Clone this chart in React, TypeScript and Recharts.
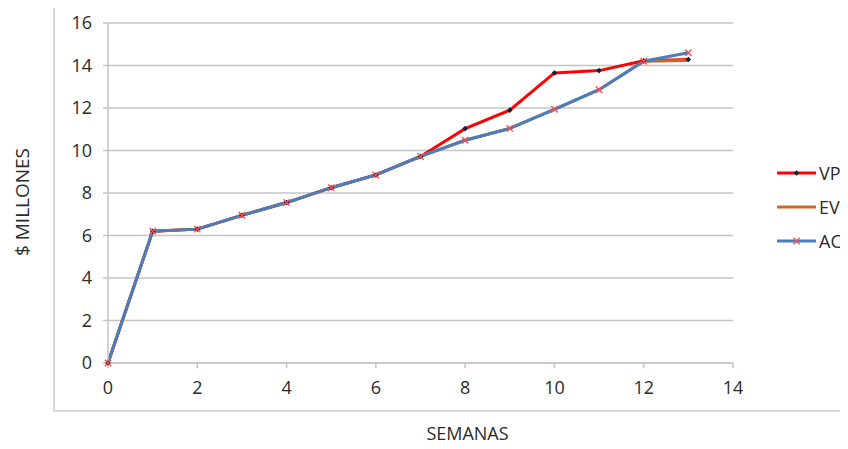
import { LineChart, Line, XAxis, YAxis, CartesianGrid } from "recharts";

const semanas = [0, 1, 2, 3, 4, 5, 6, 7, 8, 9, 10, 11, 12, 13];
const vp = [0, 6.2, 6.3, 6.95, 7.55, 8.25, 8.85, 9.72, 11.03, 11.9, 13.65, 13.76, 14.22, 14.28];
const ev = [0, 6.2, 6.3, 6.95, 7.55, 8.25, 8.85, 9.72, 10.48, 11.04, 11.94, 12.86, 14.2, 14.24];
const ac = [0, 6.2, 6.3, 6.95, 7.55, 8.25, 8.85, 9.72, 10.48, 11.04, 11.94, 12.86, 14.2, 14.6];

const xTicks = [0, 2, 4, 6, 8, 10, 12, 14];
const yTicks = [0, 2, 4, 6, 8, 10, 12, 14, 16];

const data = semanas.map((s, i) => ({ semana: s, VP: vp[i], EV: ev[i], AC: ac[i] }));

const FONT = "'Open Sans', sans-serif";
const TEXT = "#2b2b2b";
const GRID = "#c4c4c4";
const COLORS = { VP: "#ff0000", EV: "#c8692c", AC: "#4a7ebb" };

function Diamond(props: any) {
  const { cx, cy } = props;
  if (cx == null || cy == null) return null;
  const r = 2.8;
  return (
    <path
      d={`M${cx},${cy - r}L${cx + r},${cy}L${cx},${cy + r}L${cx - r},${cy}Z`}
      fill="#10203a"
    />
  );
}

function Cross(props: any) {
  const { cx, cy } = props;
  if (cx == null || cy == null) return null;
  const r = 3.2;
  return (
    <path
      d={`M${cx - r},${cy - r}L${cx + r},${cy + r}M${cx - r},${cy + r}L${cx + r},${cy - r}`}
      stroke="#ff4d4d"
      strokeWidth={1.4}
      fill="none"
    />
  );
}

function LegendBox() {
  const items = [
    { name: "VP", color: COLORS.VP, marker: "diamond" },
    { name: "EV", color: COLORS.EV, marker: "none" },
    { name: "AC", color: COLORS.AC, marker: "cross" },
  ];
  return (
    <div style={{ position: "absolute", left: 777, top: 156, width: 100, fontFamily: FONT, fontSize: 18, color: TEXT }}>
      {items.map((it) => (
        <div key={it.name} style={{ display: "flex", alignItems: "center", height: 34, whiteSpace: "nowrap" }}>
          <svg width={40} height={12} style={{ marginRight: 2, flexShrink: 0 }}>
            <line x1={0} y1={6} x2={39} y2={6} stroke={it.color} strokeWidth={3} />
            {it.marker === "diamond" && <Diamond cx={19.5} cy={6} />}
            {it.marker === "cross" && <Cross cx={19.5} cy={6} />}
          </svg>
          <span>{it.name}</span>
        </div>
      ))}
    </div>
  );
}

export default function App() {
  return (
    <div style={{ position: "relative", width: 848, height: 449, margin: -8, overflow: "hidden", background: "#fff" }}>
      <div
        style={{
          position: "absolute",
          left: 53,
          top: 3,
          width: 840,
          height: 405,
          border: "2px solid #d9d9d9",
        }}
      />
      <div style={{ position: "absolute", left: 0, top: 0 }}>
        <LineChart width={848} height={449} data={data} margin={{ top: 23, right: 115, bottom: 0, left: 0 }}>
          <CartesianGrid horizontal vertical={false} stroke={GRID} strokeWidth={1.5} />
          <XAxis
            dataKey="semana"
            type="number"
            domain={[0, 14]}
            ticks={xTicks}
            height={86}
            stroke={GRID}
            strokeWidth={1.5}
            tickSize={5}
            tickMargin={13}
            tick={{ fill: TEXT, fontSize: 18, fontFamily: FONT }}
            label={{ value: "SEMANAS", position: "center", dx: 47, dy: 28, fill: TEXT, fontSize: 18, fontFamily: FONT }}
          />
          <YAxis
            type="number"
            domain={[0, 16]}
            ticks={yTicks}
            width={108}
            stroke={GRID}
            strokeWidth={1.5}
            tickSize={5}
            tickMargin={11}
            tick={{ fill: TEXT, fontSize: 18, fontFamily: FONT }}
            label={{ value: "$ MILLONES", angle: -90, position: "center", dx: -32, dy: 9, fill: TEXT, fontSize: 19, fontFamily: FONT }}
          />
          <Line dataKey="VP" stroke={COLORS.VP} strokeWidth={3} dot={<Diamond />} activeDot={false} isAnimationActive={false} />
          <Line dataKey="EV" stroke={COLORS.EV} strokeWidth={3} dot={false} activeDot={false} isAnimationActive={false} />
          <Line dataKey="AC" stroke={COLORS.AC} strokeWidth={3} dot={<Cross />} activeDot={false} isAnimationActive={false} />
        </LineChart>
      </div>
      <LegendBox />
    </div>
  );
}
